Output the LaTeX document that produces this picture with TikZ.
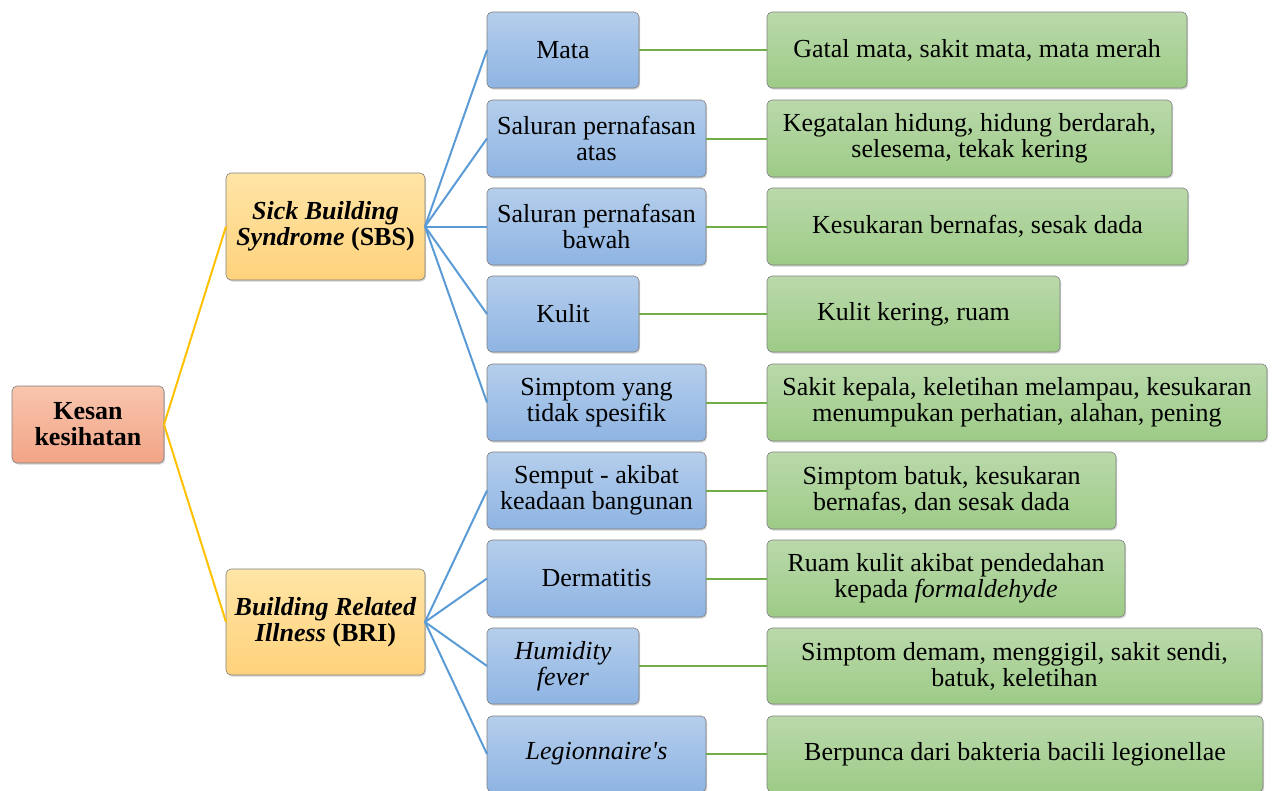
\documentclass[tikz,border=0pt]{standalone}
\usepackage{fontspec}
\setmainfont{Liberation Serif}[Ligatures=TeXOff]
\usetikzlibrary{shadows}
\definecolor{bordergray}{HTML}{7F7F7F}
\definecolor{bluetop}{HTML}{B5CEEB}
\definecolor{bluebot}{HTML}{8EB4E3}
\definecolor{greentop}{HTML}{BAD9AB}
\definecolor{greenbot}{HTML}{9DCB87}
\definecolor{yeltop}{HTML}{FFE5A6}
\definecolor{yelbot}{HTML}{FFD27C}
\definecolor{orgtop}{HTML}{F8C5AE}
\definecolor{orgbot}{HTML}{F2A486}
\definecolor{lineblue}{HTML}{5B9BD5}
\definecolor{linegreen}{HTML}{70AD47}
\definecolor{lineyel}{HTML}{FFC000}
\tikzset{
  x=1pt, y=-1pt,
  basebox/.style={draw=bordergray, line width=0.6pt, rounded corners=5pt, align=center,
    inner sep=0pt, outer sep=0pt, font=\fontsize{26}{26}\selectfont,
    drop shadow={shadow xshift=1.2pt, shadow yshift=-1.5pt, opacity=0.35}},
  bluebox/.style={basebox, top color=bluetop, bottom color=bluebot},
  greenbox/.style={basebox, top color=greentop, bottom color=greenbot},
  yelbox/.style={basebox, top color=yeltop, bottom color=yelbot},
  orgbox/.style={basebox, top color=orgtop, bottom color=orgbot},
  yline/.style={draw=lineyel, line width=2pt},
  bline/.style={draw=lineblue, line width=2pt},
  gline/.style={draw=linegreen, line width=2pt},
}
\begin{document}
\begin{tikzpicture}
\useasboundingbox (0,0) rectangle (1272,790);
% root
\node[orgbox, minimum width=152pt, minimum height=77pt] (root) at (88,424.5) {\textbf{Kesan}\\\textbf{kesihatan}};
\node[yelbox, minimum width=199pt, minimum height=107pt] (sbs) at (325.5,226.5) {\textbf{\textit{Sick Building}}\\\textbf{\textit{Syndrome} (SBS)}};
\node[yelbox, minimum width=199pt, minimum height=106pt] (bri) at (325.5,622) {\textbf{\textit{Building Related}}\\\textbf{\textit{Illness} (BRI)}};
% blue
\node[bluebox, minimum width=152pt, minimum height=76pt] (b1) at (563,50) {Mata};
\node[bluebox, minimum width=219pt, minimum height=77pt] (b2) at (596.5,138.5) {Saluran pernafasan\\atas};
\node[bluebox, minimum width=219pt, minimum height=77pt] (b3) at (596.5,226.5) {Saluran pernafasan\\bawah};
\node[bluebox, minimum width=152pt, minimum height=76pt] (b4) at (563,314) {Kulit};
\node[bluebox, minimum width=219pt, minimum height=77pt] (b5) at (596.5,402.5) {Simptom yang\\tidak spesifik};
\node[bluebox, minimum width=219pt, minimum height=77pt] (b6) at (596.5,490.5) {Semput - akibat\\keadaan bangunan};
\node[bluebox, minimum width=219pt, minimum height=77pt] (b7) at (596.5,578.5) {Dermatitis};
\node[bluebox, minimum width=152pt, minimum height=76pt] (b8) at (563,666) {\textit{Humidity}\\\textit{fever}};
\node[bluebox, minimum width=219pt, minimum height=76pt] (b9) at (596.5,754) {\textit{Legionnaire's}};
% green
\node[greenbox, minimum width=420pt, minimum height=76pt] (g1) at (977,50) {Gatal mata, sakit mata, mata merah};
\node[greenbox, minimum width=405pt, minimum height=77pt] (g2) at (969.5,138.5) {Kegatalan hidung, hidung berdarah,\\selesema, tekak kering};
\node[greenbox, minimum width=421pt, minimum height=77pt] (g3) at (977.5,226.5) {Kesukaran bernafas, sesak dada};
\node[greenbox, minimum width=293pt, minimum height=76pt] (g4) at (913.5,314) {Kulit kering, ruam};
\node[greenbox, minimum width=500pt, minimum height=77pt] (g5) at (1017,402.5) {Sakit kepala, keletihan melampau, kesukaran\\menumpukan perhatian, alahan, pening};
\node[greenbox, minimum width=349pt, minimum height=77pt] (g6) at (941.5,490.5) {Simptom batuk, kesukaran\\bernafas, dan sesak dada};
\node[greenbox, minimum width=358pt, minimum height=77pt] (g7) at (946,578.5) {Ruam kulit akibat pendedahan\\kepada \textit{formaldehyde}};
\node[greenbox, minimum width=495pt, minimum height=76pt] (g8) at (1014.5,666) {Simptom demam, menggigil, sakit sendi,\\batuk, keletihan};
\node[greenbox, minimum width=496pt, minimum height=76pt] (g9) at (1015,754) {Berpunca dari bakteria bacili legionellae};
% connectors
\draw[yline] (root.east) -- (sbs.west);
\draw[yline] (root.east) -- (bri.west);
\foreach \b in {b1,b2,b3,b4,b5} \draw[bline] (sbs.east) -- (\b.west);
\foreach \b in {b6,b7,b8,b9} \draw[bline] (bri.east) -- (\b.west);
\foreach \i in {1,...,9} \draw[gline] (b\i.east) -- (g\i.west);
\end{tikzpicture}
\end{document}
